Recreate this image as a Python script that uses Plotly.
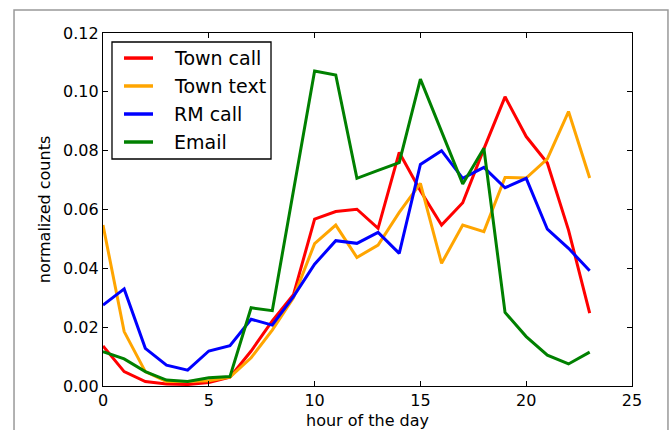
import plotly.graph_objects as go

# Hourly normalized message counts per channel
hours = list(range(24))

town_call = [0.0136, 0.0049, 0.0015, 0.0007, 0.0005, 0.0012, 0.0030, 0.0119,
             0.0221, 0.0310, 0.0567, 0.0593, 0.0601, 0.0536, 0.0794, 0.0664,
             0.0547, 0.0623, 0.0806, 0.0983, 0.0848, 0.0758, 0.0530, 0.0248]
town_text = [0.0547, 0.0185, 0.0049, 0.0015, 0.0015, 0.0018, 0.0030, 0.0096,
             0.0190, 0.0300, 0.0484, 0.0547, 0.0437, 0.0479, 0.0590, 0.0689,
             0.0417, 0.0547, 0.0525, 0.0709, 0.0707, 0.0772, 0.0933, 0.0707]
rm_call = [0.0275, 0.0330, 0.0128, 0.0071, 0.0054, 0.0119, 0.0137, 0.0227,
           0.0207, 0.0304, 0.0414, 0.0494, 0.0485, 0.0522, 0.0451, 0.0753,
           0.0800, 0.0706, 0.0743, 0.0674, 0.0706, 0.0533, 0.0468, 0.0392]
email = [0.0117, 0.0092, 0.0049, 0.0020, 0.0015, 0.0028, 0.0032, 0.0266,
         0.0256, 0.0665, 0.1071, 0.1057, 0.0706, 0.0733, 0.0759, 0.1043,
         0.0865, 0.0687, 0.0808, 0.0250, 0.0168, 0.0105, 0.0075, 0.0115]

series_names = ["Town call", "Town text", "RM call", "Email"]
series_values = [town_call, town_text, rm_call, email]
series_colors = ["#ff0000", "#ffa500", "#0000ff", "#008000"]

x_ticks = [0, 5, 10, 15, 20, 25]
y_ticks = [0.00, 0.02, 0.04, 0.06, 0.08, 0.10, 0.12]

FONT = "DejaVu Sans"

fig = go.Figure()
for name, vals, col in zip(series_names, series_values, series_colors):
    fig.add_trace(go.Scatter(x=hours, y=vals, mode="lines", name=name,
                             line=dict(color=col, width=3), showlegend=False))

# Legend drawn in paper coordinates: framed box with line swatches and labels
shapes = [
    # outer figure frame
    dict(type="rect", xref="paper", yref="paper", x0=-0.1682, x1=1.068,
         y0=-0.3, y1=1.0652, line=dict(color="#999999", width=1.5)),
    dict(type="rect", xref="paper", yref="paper", x0=0.017, x1=0.3176,
         y0=0.643, y1=0.9745, line=dict(color="black", width=1.3),
         fillcolor="white", layer="above"),
]
annotations = []
row_y = [0.929, 0.8499, 0.7705, 0.6912]
for name, col, yy in zip(series_names, series_colors, row_y):
    shapes.append(dict(type="line", xref="paper", yref="paper", x0=0.0397,
                       x1=0.0945, y0=yy, y1=yy, line=dict(color=col, width=3.5),
                       layer="above"))
    annotations.append(dict(xref="paper", yref="paper", x=0.1304, y=yy,
                            text=name, showarrow=False, xanchor="left",
                            yanchor="middle",
                            font=dict(family=FONT, size=19, color="black")))

axis_common = dict(showline=True, linecolor="black", linewidth=1.2,
                   mirror="ticks", ticks="inside", ticklen=5, tickwidth=1,
                   tickcolor="black", showgrid=False, zeroline=False,
                   automargin=False,
                   tickfont=dict(family=FONT, size=16, color="black"))

fig.update_layout(
    width=669, height=430,
    margin=dict(l=103, r=37, t=33, b=44),
    paper_bgcolor="white", plot_bgcolor="white",
    shapes=shapes, annotations=annotations,
    xaxis=dict(range=[0, 25], tickvals=x_ticks,
               title=dict(text="hour of the day", standoff=7,
                          font=dict(family=FONT, size=16, color="black")),
               **axis_common),
    yaxis=dict(range=[0, 0.12], tickvals=y_ticks, tickformat=".2f",
               title=dict(text="normalized counts", standoff=8,
                          font=dict(family=FONT, size=16, color="black")),
               **axis_common),
)

fig.write_html("out.html")
